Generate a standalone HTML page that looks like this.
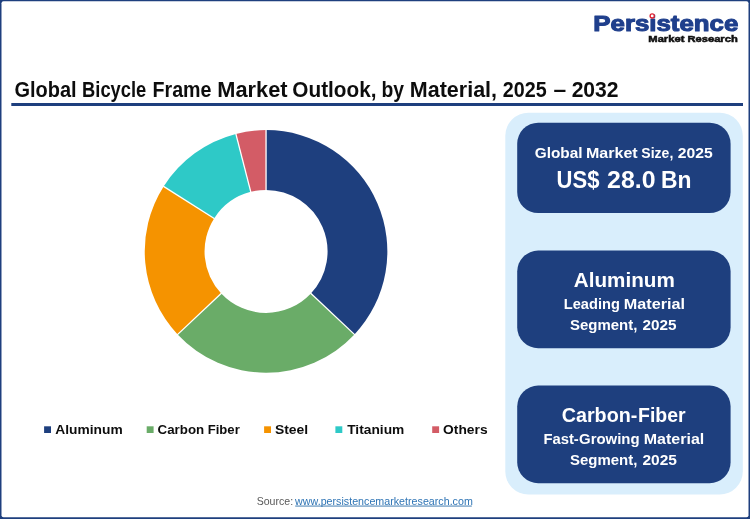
<!DOCTYPE html>
<html lang="en">
<head>
<meta charset="utf-8">
<title>Global Bicycle Frame Market Outlook, by Material, 2025 – 2032</title>
<style>
html,body{margin:0;padding:0;background:#ffffff;}
body{width:750px;height:519px;overflow:hidden;font-family:"Liberation Sans",sans-serif;}
svg{display:block;will-change:transform;}
svg text{font-family:"Liberation Sans",sans-serif;}
</style>
</head>
<body>
<svg width="750" height="519" viewBox="0 0 750 519">
<rect x="0" y="0" width="750" height="519" fill="#1e3f7e"/>
<rect x="1.5" y="1.25" width="747.00" height="516.05" rx="2" ry="2" fill="#ffffff"/>
<rect x="505.3" y="112.7" width="237.5" height="381.7" rx="23" ry="23" fill="#d9eefc"/>
<rect x="517.2" y="122.7" width="213.4" height="90.40" rx="21" ry="21" fill="#1e3f7e"/>
<rect x="517.2" y="250.6" width="213.4" height="97.60" rx="21" ry="21" fill="#1e3f7e"/>
<rect x="517.2" y="385.6" width="213.4" height="97.60" rx="21" ry="21" fill="#1e3f7e"/>
<text x="14.53" y="96.50" font-size="21.66" font-weight="bold" fill="#0d0d0d" textLength="62.14" lengthAdjust="spacingAndGlyphs" >Global</text>
<text x="82.12" y="96.50" font-size="21.66" font-weight="bold" fill="#0d0d0d" textLength="64.12" lengthAdjust="spacingAndGlyphs" >Bicycle</text>
<text x="152.50" y="96.50" font-size="21.66" font-weight="bold" fill="#0d0d0d" textLength="58.97" lengthAdjust="spacingAndGlyphs" >Frame</text>
<text x="217.32" y="96.50" font-size="21.66" font-weight="bold" fill="#0d0d0d" textLength="70.20" lengthAdjust="spacingAndGlyphs" >Market</text>
<text x="292.35" y="96.50" font-size="21.66" font-weight="bold" fill="#0d0d0d" textLength="84.18" lengthAdjust="spacingAndGlyphs" >Outlook,</text>
<text x="381.48" y="96.50" font-size="21.66" font-weight="bold" fill="#0d0d0d" textLength="22.55" lengthAdjust="spacingAndGlyphs" >by</text>
<text x="409.84" y="96.50" font-size="21.66" font-weight="bold" fill="#0d0d0d" textLength="87.22" lengthAdjust="spacingAndGlyphs" >Material,</text>
<text x="502.87" y="96.50" font-size="21.66" font-weight="bold" fill="#0d0d0d" textLength="43.92" lengthAdjust="spacingAndGlyphs" >2025</text>
<text x="553.62" y="96.50" font-size="21.66" font-weight="bold" fill="#0d0d0d" textLength="12.69" lengthAdjust="spacingAndGlyphs" >–</text>
<text x="571.64" y="96.50" font-size="21.66" font-weight="bold" fill="#0d0d0d" textLength="46.97" lengthAdjust="spacingAndGlyphs" >2032</text>
<rect x="11.3" y="103.0" width="731.7" height="3.0" fill="#1e3f7e"/>
<text x="593.36" y="31.40" font-size="22.53" font-weight="bold" fill="#1f3f8c" textLength="144.90" lengthAdjust="spacingAndGlyphs" stroke="#1f3f8c" stroke-width="1.1" stroke-linejoin="round">Persistence</text>
<circle cx="652.2" cy="15.9" r="2.1" fill="#ffffff" stroke="#e02030" stroke-width="1.3"/>
<text x="648.36" y="41.60" font-size="9.59" font-weight="bold" fill="#111111" textLength="89.39" lengthAdjust="spacingAndGlyphs" stroke="#111111" stroke-width="0.55">Market Research</text>
<path d="M266.05,130.10 A121.3,121.3 0 0 1 354.47,334.44 L310.88,293.50 A61.5,61.5 0 0 0 266.05,189.90 Z" fill="#1e3f7e"/>
<path d="M354.47,334.44 A121.3,121.3 0 0 1 177.63,334.44 L221.22,293.50 A61.5,61.5 0 0 0 310.88,293.50 Z" fill="#6aac68"/>
<path d="M177.63,334.44 A121.3,121.3 0 0 1 163.63,186.40 L214.12,218.45 A61.5,61.5 0 0 0 221.22,293.50 Z" fill="#f59300"/>
<path d="M163.63,186.40 A121.3,121.3 0 0 1 235.88,133.91 L250.76,191.83 A61.5,61.5 0 0 0 214.12,218.45 Z" fill="#2ec9c7"/>
<path d="M235.88,133.91 A121.3,121.3 0 0 1 266.05,130.10 L266.05,189.90 A61.5,61.5 0 0 0 250.76,191.83 Z" fill="#d35c66"/>
<line x1="266.05" y1="190.50" x2="266.05" y2="129.50" stroke="#ffffff" stroke-width="1.3"/>
<line x1="310.44" y1="293.09" x2="354.91" y2="334.85" stroke="#ffffff" stroke-width="1.3"/>
<line x1="221.66" y1="293.09" x2="177.19" y2="334.85" stroke="#ffffff" stroke-width="1.3"/>
<line x1="214.63" y1="218.77" x2="163.13" y2="186.08" stroke="#ffffff" stroke-width="1.3"/>
<line x1="250.90" y1="192.41" x2="235.73" y2="133.33" stroke="#ffffff" stroke-width="1.3"/>
<rect x="44.1" y="426.3" width="6.9" height="6.7" fill="#1e3f7e"/>
<text x="55.30" y="433.80" font-size="13.52" font-weight="bold" fill="#0d0d0d" textLength="67.35" lengthAdjust="spacingAndGlyphs" >Aluminum</text>
<rect x="146.7" y="426.3" width="6.9" height="6.7" fill="#6aac68"/>
<text x="157.58" y="433.80" font-size="13.52" font-weight="bold" fill="#0d0d0d" textLength="46.60" lengthAdjust="spacingAndGlyphs" >Carbon</text>
<text x="207.76" y="433.80" font-size="13.52" font-weight="bold" fill="#0d0d0d" textLength="31.97" lengthAdjust="spacingAndGlyphs" >Fiber</text>
<rect x="264.1" y="426.3" width="6.9" height="6.7" fill="#f59300"/>
<text x="274.95" y="433.80" font-size="13.52" font-weight="bold" fill="#0d0d0d" textLength="33.24" lengthAdjust="spacingAndGlyphs" >Steel</text>
<rect x="335.4" y="426.3" width="6.9" height="6.7" fill="#2ec9c7"/>
<text x="347.21" y="433.80" font-size="13.52" font-weight="bold" fill="#0d0d0d" textLength="57.07" lengthAdjust="spacingAndGlyphs" >Titanium</text>
<rect x="432.2" y="426.3" width="6.9" height="6.7" fill="#d35c66"/>
<text x="443.11" y="433.80" font-size="13.52" font-weight="bold" fill="#0d0d0d" textLength="44.49" lengthAdjust="spacingAndGlyphs" >Others</text>
<text x="256.66" y="504.60" font-size="10.03" font-weight="normal" fill="#595959" textLength="36.45" lengthAdjust="spacingAndGlyphs" >Source:</text>
<text x="295.11" y="504.60" font-size="10.03" font-weight="normal" fill="#2e74b5" textLength="177.71" lengthAdjust="spacingAndGlyphs" >www.persistencemarketresearch.com</text>
<rect x="295.2" y="505.6" width="176.6" height="0.9" fill="#2e6fa8"/>
<text x="534.74" y="158.00" font-size="15.41" font-weight="bold" fill="#ffffff" textLength="47.81" lengthAdjust="spacingAndGlyphs" >Global</text>
<text x="585.95" y="158.00" font-size="15.41" font-weight="bold" fill="#ffffff" textLength="51.71" lengthAdjust="spacingAndGlyphs" >Market</text>
<text x="641.34" y="158.00" font-size="15.41" font-weight="bold" fill="#ffffff" textLength="31.95" lengthAdjust="spacingAndGlyphs" >Size,</text>
<text x="677.84" y="158.00" font-size="15.41" font-weight="bold" fill="#ffffff" textLength="34.88" lengthAdjust="spacingAndGlyphs" >2025</text>
<text x="556.60" y="188.00" font-size="24.13" font-weight="bold" fill="#ffffff" textLength="42.84" lengthAdjust="spacingAndGlyphs" >US$</text>
<text x="607.10" y="188.00" font-size="24.13" font-weight="bold" fill="#ffffff" textLength="48.42" lengthAdjust="spacingAndGlyphs" >28.0</text>
<text x="660.94" y="188.00" font-size="24.13" font-weight="bold" fill="#ffffff" textLength="30.52" lengthAdjust="spacingAndGlyphs" >Bn</text>
<text x="573.79" y="286.50" font-size="20.35" font-weight="bold" fill="#ffffff" textLength="101.00" lengthAdjust="spacingAndGlyphs" >Aluminum</text>
<text x="563.81" y="309.40" font-size="14.97" font-weight="bold" fill="#ffffff" textLength="56.01" lengthAdjust="spacingAndGlyphs" >Leading</text>
<text x="623.84" y="309.40" font-size="14.97" font-weight="bold" fill="#ffffff" textLength="61.24" lengthAdjust="spacingAndGlyphs" >Material</text>
<text x="570.05" y="330.10" font-size="14.97" font-weight="bold" fill="#ffffff" textLength="67.31" lengthAdjust="spacingAndGlyphs" >Segment,</text>
<text x="642.50" y="330.10" font-size="14.97" font-weight="bold" fill="#ffffff" textLength="34.04" lengthAdjust="spacingAndGlyphs" >2025</text>
<text x="561.70" y="421.50" font-size="20.35" font-weight="bold" fill="#ffffff" textLength="75.66" lengthAdjust="spacingAndGlyphs" >Carbon-</text>
<text x="638.04" y="421.50" font-size="20.35" font-weight="bold" fill="#ffffff" textLength="47.61" lengthAdjust="spacingAndGlyphs" >Fiber</text>
<text x="543.40" y="444.40" font-size="14.97" font-weight="bold" fill="#ffffff" textLength="35.42" lengthAdjust="spacingAndGlyphs" >Fast-</text>
<text x="579.05" y="444.40" font-size="14.97" font-weight="bold" fill="#ffffff" textLength="60.58" lengthAdjust="spacingAndGlyphs" >Growing</text>
<text x="643.77" y="444.40" font-size="14.97" font-weight="bold" fill="#ffffff" textLength="60.54" lengthAdjust="spacingAndGlyphs" >Material</text>
<text x="570.05" y="465.10" font-size="14.97" font-weight="bold" fill="#ffffff" textLength="67.31" lengthAdjust="spacingAndGlyphs" >Segment,</text>
<text x="642.48" y="465.10" font-size="14.97" font-weight="bold" fill="#ffffff" textLength="34.49" lengthAdjust="spacingAndGlyphs" >2025</text>
</svg>
</body>
</html>
